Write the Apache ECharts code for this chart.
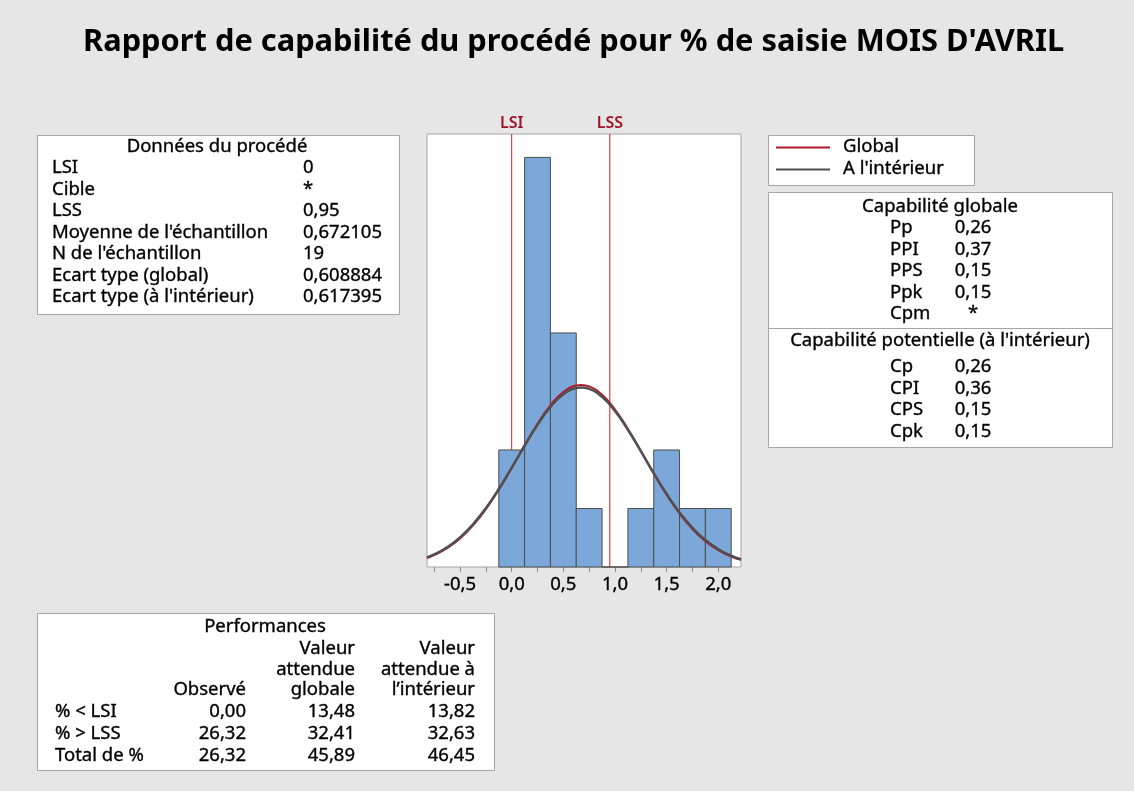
<!DOCTYPE html>
<html>
<head>
<meta charset="utf-8">
<title>Rapport de capabilité</title>
<script src="https://cdn.jsdelivr.net/npm/echarts@6/dist/echarts.min.js"></script>
<style>
  html, body { margin: 0; padding: 0; background: #e6e6e6; }
  #chart { width: 1134px; height: 791px; }
</style>
</head>
<body>
<div id="chart"></div>
<script>
// histogramme : centres des classes et effectifs
const binCenters = [0, 0.25, 0.5, 0.75, 1.0, 1.25, 1.5, 1.75, 2.0];
const binCounts = [2, 7, 4, 1, 0, 1, 2, 1, 1];
const binWidth = 0.25;

// courbes de loi normale
const curveX = [-0.82, -0.75, -0.625, -0.5, -0.375, -0.25, -0.125, 0, 0.125, 0.25, 0.375, 0.5, 0.625, 0.672,
  0.75, 0.875, 1.0, 1.125, 1.25, 1.375, 1.5, 1.625, 1.75, 1.875, 2.0, 2.125, 2.22];
const globalCurve = [0.155, 0.204, 0.322, 0.488, 0.710, 0.989, 1.321, 1.692, 2.079, 2.448, 2.763, 2.991, 3.103, 3.112,
  3.086, 2.944, 2.692, 2.359, 1.984, 1.598, 1.234, 0.914, 0.649, 0.442, 0.289, 0.180, 0.123];
const withinCurve = [0.165, 0.216, 0.338, 0.507, 0.729, 1.006, 1.334, 1.697, 2.072, 2.430, 2.734, 2.952, 3.060, 3.069,
  3.045, 2.908, 2.665, 2.345, 1.980, 1.605, 1.248, 0.932, 0.668, 0.460, 0.304, 0.192, 0.132];

const xLabelValues = [-0.5, 0, 0.5, 1.0, 1.5, 2.0];
const xTickValues = [-0.75, -0.5, -0.25, 0, 0.25, 0.5, 0.75, 1.0, 1.25, 1.5, 1.75, 2.0];

const specNames = ['LSI', 'LSS'];
const specValues = [0, 0.95];

// tableaux de texte
const processLabels = ['LSI', 'Cible', 'LSS', "Moyenne de l'échantillon", "N de l'échantillon", 'Ecart type (global)', "Ecart type (à l'intérieur)"];
const processValues = ['0', '*', '0,95', '0,672105', '19', '0,608884', '0,617395'];

const globalCapLabels = ['Pp', 'PPI', 'PPS', 'Ppk', 'Cpm'];
const globalCapValues = ['0,26', '0,37', '0,15', '0,15', '*'];
const potentialCapLabels = ['Cp', 'CPI', 'CPS', 'Cpk'];
const potentialCapValues = ['0,26', '0,36', '0,15', '0,15'];

const perfLabels = ['% < LSI', '% > LSS', 'Total de %'];
const perfObserved = ['0,00', '26,32', '26,32'];
const perfGlobal = ['13,48', '32,41', '45,89'];
const perfWithin = ['13,82', '32,63', '46,45'];

const FONT = '"Noto Sans", "Open Sans", sans-serif';
const FS = 18.5;

let mycharts = echarts.init(document.getElementById('chart'));

function txt(text, x, y, align) {
    return {
        type: 'text',
        style: {
            text: text, x: x, y: y,
            textAlign: align || 'left',
            textVerticalAlign: 'middle',
            font: 'normal ' + FS + 'px ' + FONT,
            fill: '#000',
            stroke: '#000',
            lineWidth: 0.35
        }
    };
}
function box(x, y, w, h) {
    return { type: 'rect', shape: { x: x, y: y, width: w, height: h }, style: { fill: '#fff', stroke: '#a6a6a6', lineWidth: 1 } };
}
function hline(x1, x2, y, color, w) {
    return { type: 'line', shape: { x1: x1, y1: y, x2: x2, y2: y }, style: { stroke: color, lineWidth: w || 1 } };
}

let graphics = [];
// Données du procédé
graphics.push(box(37.5, 135.5, 362, 179));
graphics.push(txt('Données du procédé', 217, 147, 'center'));
processLabels.forEach(function (l, i) {
    graphics.push(txt(l, 52, 168 + i * 21.5));
    graphics.push(txt(processValues[i], 303, 168 + i * 21.5));
});
// légende
graphics.push(box(768.5, 135.5, 206, 50));
graphics.push(hline(776, 830, 147.5, '#b2182b', 2));
graphics.push(hline(776, 830, 169.5, '#505050', 2));
graphics.push(txt('Global', 843, 147));
graphics.push(txt("A l'intérieur", 843, 169));
// capabilité
graphics.push(box(768.5, 192.5, 344, 255));
graphics.push(hline(768.5, 1112.5, 328.5, '#a6a6a6', 1));
graphics.push(txt('Capabilité globale', 940, 207, 'center'));
globalCapLabels.forEach(function (l, i) {
    graphics.push(txt(l, 890, 228 + i * 21.5));
    graphics.push(txt(globalCapValues[i], 973, 228 + i * 21.5, 'center'));
});
graphics.push(txt("Capabilité potentielle (à l'intérieur)", 940, 341, 'center'));
potentialCapLabels.forEach(function (l, i) {
    graphics.push(txt(l, 890, 367 + i * 21.5));
    graphics.push(txt(potentialCapValues[i], 973, 367 + i * 21.5, 'center'));
});
// performances
graphics.push(box(37.5, 613.5, 457, 157));
graphics.push(txt('Performances', 265, 627, 'center'));
graphics.push(txt('Valeur', 355, 649, 'right'));
graphics.push(txt('attendue', 355, 670, 'right'));
graphics.push(txt('globale', 355, 690, 'right'));
graphics.push(txt('Valeur', 475, 649, 'right'));
graphics.push(txt('attendue à', 475, 670, 'right'));
graphics.push(txt('l’intérieur', 475, 690, 'right'));
graphics.push(txt('Observé', 246, 690, 'right'));
perfLabels.forEach(function (l, i) {
    let y = 712 + i * 22;
    graphics.push(txt(l, 55, y));
    graphics.push(txt(perfObserved[i], 246, y, 'right'));
    graphics.push(txt(perfGlobal[i], 355, y, 'right'));
    graphics.push(txt(perfWithin[i], 475, y, 'right'));
});

let option = {
    backgroundColor: '#e6e6e6',
    animation: false,
    title: {
        text: "Rapport de capabilité du procédé pour % de saisie MOIS D'AVRIL",
        left: 78,
        top: 22,
        textStyle: { fontFamily: FONT, fontSize: 30.8, fontWeight: 'bold', color: '#000' }
    },
    grid: {
        left: 427, right: 393, top: 134, bottom: 224,
        show: true, backgroundColor: '#fff', borderColor: '#a6a6a6', borderWidth: 1
    },
    xAxis: {
        type: 'value',
        min: -0.82,
        max: 2.22,
        axisLine: { show: false },
        splitLine: { show: false },
        axisTick: {
            show: true, length: 5, inside: false,
            customValues: xTickValues,
            lineStyle: { color: '#8c8c8c' }
        },
        axisLabel: {
            customValues: xLabelValues,
            margin: 8,
            fontFamily: FONT, fontSize: 18.5, color: '#000',
            textBorderColor: '#000', textBorderWidth: 0.35,
            formatter: function (v) { return v.toFixed(1).replace('.', ','); }
        }
    },
    yAxis: {
        type: 'value', min: 0, max: 7.4, show: false
    },
    graphic: graphics,
    series: [
        {
            // limites de spécification
            type: 'custom',
            z: 1,
            data: specValues.map(function (v, i) { return [v, i]; }),
            renderItem: function (params, api) {
                let top = api.coord([api.value(0), 7.4]);
                let bot = api.coord([api.value(0), 0]);
                return {
                    type: 'group',
                    children: [
                        { type: 'line', shape: { x1: top[0], y1: top[1], x2: bot[0], y2: bot[1] }, style: { stroke: '#d7191c', lineWidth: 1 } },
                        { type: 'text', style: { text: specNames[api.value(1)], x: top[0], y: top[1] - 11, textAlign: 'center', textVerticalAlign: 'middle', font: '600 16px ' + FONT, fill: '#a01428' } }
                    ]
                };
            }
        },
        {
            // histogramme
            type: 'custom',
            z: 2,
            data: binCenters.map(function (c, i) { return [c - binWidth / 2, c + binWidth / 2, binCounts[i]]; }),
            encode: { x: [0, 1], y: 2 },
            renderItem: function (params, api) {
                let p0 = api.coord([api.value(0), api.value(2)]);
                let p1 = api.coord([api.value(1), 0]);
                return {
                    type: 'rect',
                    shape: { x: p0[0], y: p0[1], width: p1[0] - p0[0], height: p1[1] - p0[1] },
                    style: { fill: '#7ba7d9', stroke: '#4d4d4d', lineWidth: 1 }
                };
            }
        },
        {
            name: 'Global',
            type: 'line',
            z: 3,
            smooth: true,
            showSymbol: false,
            data: curveX.map(function (x, i) { return [x, globalCurve[i]]; }),
            lineStyle: { color: '#b2182b', width: 2 }
        },
        {
            name: "A l'intérieur",
            type: 'line',
            z: 4,
            smooth: true,
            showSymbol: false,
            data: curveX.map(function (x, i) { return [x, withinCurve[i]]; }),
            lineStyle: { color: '#505050', width: 2.5 }
        }
    ]
};
mycharts.setOption(option);
window.addEventListener('resize', function () {
    mycharts.resize();
});
</script>
</body>
</html>
